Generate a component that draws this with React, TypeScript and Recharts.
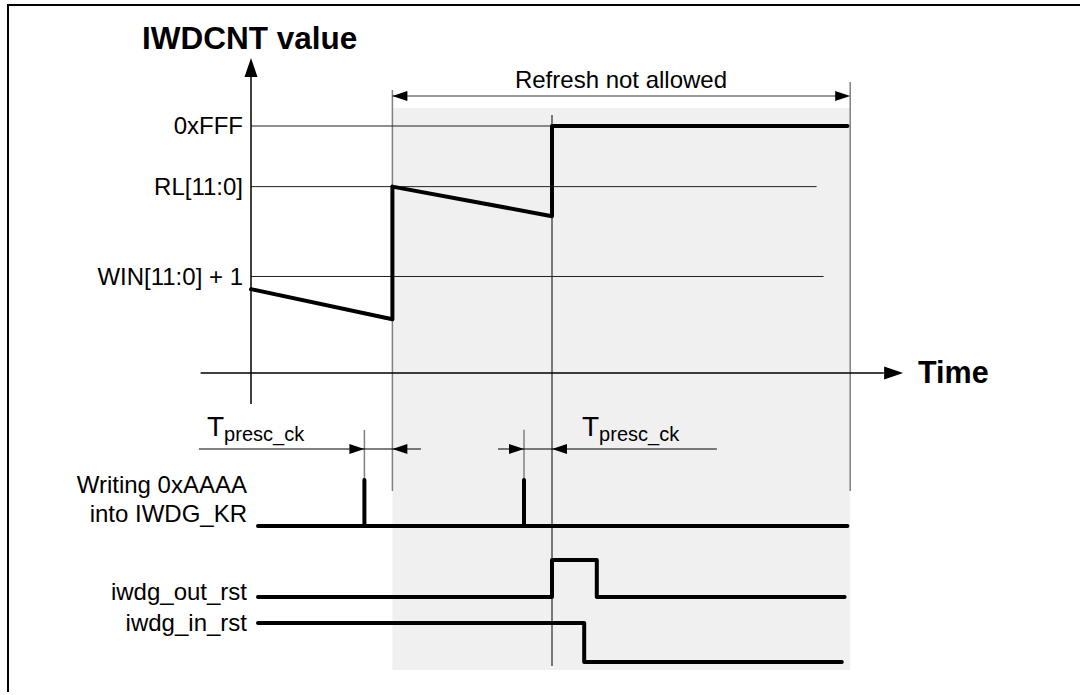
import React from 'react';
import { ComposedChart, XAxis, YAxis, Line, Scatter, ReferenceLine, ReferenceArea } from 'recharts';

const W = 1080;
const H = 695;
const FONT = '"Liberation Sans", Arial, Helvetica, sans-serif';

// time axis in prescaler clock periods (Tpresc_ck), 0 sits on the IWDCNT axis
const X0 = 251;
const PX_PER_T = 28;

// events
const tWrite = [4.05, 9.75]; // 0xAAAA written into IWDG_KR
const tReload = 5.05;
const tReset = 10.75;
const tWindowEnd = 21.4;

// IWDCNT value
const counterTime = [0, 5.05, 5.05, 10.75, 10.75, 21.3];
const counterValue = [1390, 890, 3090, 2600, 4095, 4095];

// reference levels
const levelLabels = ['0xFFF', 'RL[11:0]', 'WIN[11:0] + 1'];
const levelValues = [4095, 3090, 1600];
const levelEnds = [10.75, 20.2, 20.45];

// logic signals
const kickTime = [0.25, 4.05, 4.05, 4.05, 9.75, 9.75, 9.75, 21.3];
const kickLevel = [0, 0, 1, 0, 0, 1, 0, 0];
const outRstTime = [0.25, 10.75, 10.75, 12.35, 12.35, 21.2];
const outRstLevel = [0, 0, 1, 1, 0, 0];
const inRstTime = [0.25, 11.9, 11.9, 21.1];
const inRstLevel = [1, 1, 0, 0];

const toPoints = (ts: number[], vs: number[]) => ts.map((t, i) => ({ t, v: vs[i] }));

// domain so that value 0 sits at zeroPx (from top) and one unit is pxPerUnit tall
const laneDomain = (zeroPx: number, pxPerUnit: number): [number, number] => [
  -(H - zeroPx) / pxPerUnit,
  zeroPx / pxPerUnit,
];

const xDomain: [number, number] = [-X0 / PX_PER_T, (W - X0) / PX_PER_T];

type Arrow = { t: number; y: number; dir: 'up' | 'left' | 'right'; big?: boolean };

const arrows: Arrow[] = [
  { t: 0, y: 58, dir: 'up', big: true },
  { t: 23.29, y: 373, dir: 'right', big: true },
  { t: tReload, y: 96, dir: 'left' },
  { t: tWindowEnd, y: 96, dir: 'right' },
  { t: tWrite[0], y: 449, dir: 'right' },
  { t: tReload, y: 449, dir: 'left' },
  { t: tWrite[1], y: 449, dir: 'right' },
  { t: tReset, y: 449, dir: 'left' },
];

function ArrowHead(props: any) {
  const { cx, cy, payload } = props;
  const len = payload.big ? 19 : 15;
  const hw = payload.big ? 6.5 : 5;
  let pts = '';
  if (payload.dir === 'up') pts = `${cx},${cy} ${cx - hw},${cy + len} ${cx + hw},${cy + len}`;
  if (payload.dir === 'right') pts = `${cx},${cy} ${cx - len},${cy - hw} ${cx - len},${cy + hw}`;
  if (payload.dir === 'left') pts = `${cx},${cy} ${cx + len},${cy - hw} ${cx + len},${cy + hw}`;
  return <polygon points={pts} fill="#000" />;
}

const thick = {
  stroke: '#000',
  strokeWidth: 4,
  strokeLinecap: 'round' as const,
  strokeLinejoin: 'round' as const,
  dot: false,
  activeDot: false,
  isAnimationActive: false,
  type: 'linear' as const,
};

function TPresc({ x }: { x: number }) {
  return (
    <text x={x} y={436} fontSize={28} fontFamily={FONT} fill="#000">
      T
      <tspan fontSize={20} dy={5}>presc_ck</tspan>
    </text>
  );
}

export default function App() {
  return (
    <div style={{ position: 'absolute', left: 0, top: 0, width: W, height: H, background: '#fff' }}>
      {/* frame */}
      <div
        style={{
          position: 'absolute',
          left: 7,
          top: 4,
          width: W,
          height: 686,
          borderTop: '2px solid #000',
          borderLeft: '2px solid #000',
        }}
      />
      <ComposedChart width={W} height={H} margin={{ top: 0, right: 0, bottom: 0, left: 0 }}>
        <XAxis dataKey="t" type="number" domain={xDomain} allowDataOverflow hide />
        <YAxis yAxisId="pos" type="number" domain={[0, H]} reversed allowDataOverflow hide />
        <YAxis yAxisId="cnt" type="number" domain={laneDomain(373, 247 / 4095)} allowDataOverflow hide />
        <YAxis yAxisId="kick" type="number" domain={laneDomain(526, 46)} allowDataOverflow hide />
        <YAxis yAxisId="out" type="number" domain={laneDomain(597, 37)} allowDataOverflow hide />
        <YAxis yAxisId="in" type="number" domain={laneDomain(662, 39)} allowDataOverflow hide />

        {/* refresh not allowed area */}
        <ReferenceArea
          yAxisId="pos"
          x1={tReload}
          x2={tWindowEnd}
          y1={108}
          y2={670}
          fill="#f0f0f0"
          fillOpacity={1}
          stroke="none"
        />

        {/* guides */}
        <ReferenceLine yAxisId="pos" segment={[{ x: tReload, y: 90 }, { x: tReload, y: 491 }]} stroke="#808080" strokeWidth={1.5} />
        <ReferenceLine yAxisId="pos" segment={[{ x: tWindowEnd, y: 82 }, { x: tWindowEnd, y: 491 }]} stroke="#808080" strokeWidth={1.5} />
        <ReferenceLine yAxisId="pos" segment={[{ x: tReset, y: 115 }, { x: tReset, y: 666 }]} stroke="#000" strokeWidth={1} />
        {tWrite.map((t) => (
          <ReferenceLine key={t} yAxisId="kick" segment={[{ x: t, y: 1 }, { x: t, y: 2.09 }]} stroke="#808080" strokeWidth={1.5} />
        ))}
        <ReferenceLine yAxisId="pos" segment={[{ x: tReload, y: 96 }, { x: tWindowEnd - 0.3, y: 96 }]} stroke="#333" strokeWidth={1.2} />
        <ReferenceLine yAxisId="pos" segment={[{ x: -1.86, y: 449 }, { x: 6.07, y: 449 }]} stroke="#000" strokeWidth={1} />
        <ReferenceLine yAxisId="pos" segment={[{ x: 8.82, y: 449 }, { x: 16.64, y: 449 }]} stroke="#000" strokeWidth={1} />

        {/* levels */}
        {levelValues.map((v, i) => (
          <ReferenceLine key={levelLabels[i]} yAxisId="cnt" segment={[{ x: 0, y: v }, { x: levelEnds[i], y: v }]} stroke="#222" strokeWidth={1} />
        ))}

        {/* axes */}
        <ReferenceLine yAxisId="pos" segment={[{ x: 0, y: 404 }, { x: 0, y: 70 }]} stroke="#000" strokeWidth={1.5} />
        <ReferenceLine yAxisId="cnt" segment={[{ x: -1.8, y: 0 }, { x: 22.6, y: 0 }]} stroke="#000" strokeWidth={1.5} />

        {/* signals */}
        <Line yAxisId="cnt" data={toPoints(counterTime, counterValue)} dataKey="v" {...thick} />
        <Line yAxisId="kick" data={toPoints(kickTime, kickLevel)} dataKey="v" {...thick} />
        <Line yAxisId="out" data={toPoints(outRstTime, outRstLevel)} dataKey="v" {...thick} />
        <Line yAxisId="in" data={toPoints(inRstTime, inRstLevel)} dataKey="v" {...thick} />

        <Scatter yAxisId="pos" data={arrows} dataKey="y" shape={ArrowHead} isAnimationActive={false} />
      </ComposedChart>

      {/* labels */}
      <svg width={W} height={H} style={{ position: 'absolute', left: 0, top: 0, pointerEvents: 'none' }}>
        <text x={142} y={49} fontSize={31.5} fontWeight="bold" fontFamily={FONT} fill="#000">
          IWDCNT value
        </text>
        <text x={918} y={383} fontSize={30.5} fontWeight="bold" fontFamily={FONT} fill="#000">
          Time
        </text>
        <text x={621} y={88} fontSize={24} textAnchor="middle" fontFamily={FONT} fill="#000">
          Refresh not allowed
        </text>
        {levelLabels.map((label, i) => (
          <text
            key={label}
            x={243}
            y={[134, 195, 285][i]}
            fontSize={24}
            textAnchor="end"
            fontFamily={FONT}
            fill="#000"
          >
            {label}
          </text>
        ))}
        <TPresc x={207} />
        <TPresc x={582} />
        <text x={247} y={493} fontSize={24} textAnchor="end" fontFamily={FONT} fill="#000">
          Writing 0xAAAA
        </text>
        <text x={247} y={522} fontSize={24} textAnchor="end" fontFamily={FONT} fill="#000">
          into IWDG_KR
        </text>
        <text x={247} y={600} fontSize={24} textAnchor="end" fontFamily={FONT} fill="#000">
          iwdg_out_rst
        </text>
        <text x={247} y={631} fontSize={24} textAnchor="end" fontFamily={FONT} fill="#000">
          iwdg_in_rst
        </text>
      </svg>
    </div>
  );
}
